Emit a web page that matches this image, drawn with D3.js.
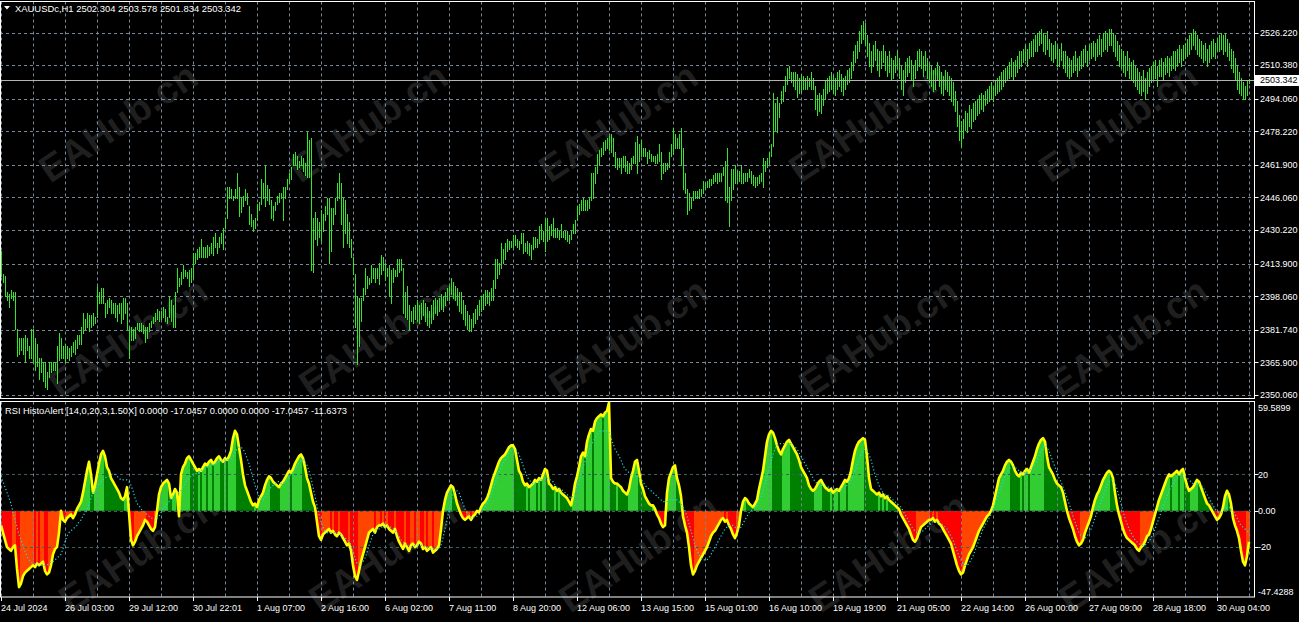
<!DOCTYPE html>
<html><head><meta charset="utf-8">
<script src="https://cdn.jsdelivr.net/npm/d3@7"></script>
<style>
html,body{margin:0;padding:0;background:#000;overflow:hidden}
svg{display:block}
text{font-family:Tahoma,"Liberation Sans",Arial,sans-serif;font-size:9px;fill:#fff}
</style></head><body>
<svg id="c" width="1299" height="622"></svg>
<script>
const symbolTitle = "XAUUSDc,H1";
const lastOHLC = ["2502.304", "2503.578", "2501.834", "2503.342"];
const lastClose = 2503.342;
const indTitle = "RSI HistoAlert [14,0,20,3,1.50X] 0.0000 -17.0457 0.0000 0.0000 -17.0457 -11.6373";
const watermark = "EAHub.cn";

const highs = [
2420,2409,2408,2400,2399,2401,2400,2400,2382,2378,
2378,2378,2379,2378,2374,2382,2382,2378,2375,2368,
2368,2366,2366,2361,2366,2366,2366,2366,2374,2380,
2378,2374,2375,2374,2373,2374,2376,2377,2379,2379,
2383,2390,2387,2390,2389,2389,2390,2388,2403,2400,
2402,2402,2395,2396,2397,2396,2395,2395,2394,2395,
2395,2397,2397,2395,2383,2383,2382,2383,2385,2385,
2385,2384,2383,2383,2385,2386,2388,2390,2392,2391,
2391,2393,2392,2388,2398,2396,2394,2400,2412,2407,
2410,2413,2411,2410,2411,2412,2419,2419,2421,2422,
2426,2422,2422,2423,2422,2424,2427,2429,2424,2427,
2429,2431,2436,2451,2451,2450,2447,2450,2458,2451,
2446,2447,2450,2448,2442,2438,2435,2436,2443,2444,
2455,2453,2462,2452,2450,2445,2442,2444,2447,2448,
2448,2451,2451,2455,2458,2461,2467,2468,2466,2464,
2466,2465,2463,2478,2474,2475,2436,2439,2436,2434,
2440,2438,2442,2446,2446,2441,2441,2446,2453,2458,
2453,2446,2445,2438,2434,2426,2417,2409,2398,2397,
2397,2402,2412,2408,2407,2413,2412,2412,2412,2414,
2418,2417,2414,2412,2413,2411,2412,2411,2416,2416,
2416,2412,2400,2403,2394,2391,2393,2394,2396,
2394,2395,2396,2395,2393,2391,2394,2396,2397,2396,
2397,2399,2398,2400,2402,2403,2407,2405,2403,2402,
2400,2400,2396,2394,2391,2389,2387,2390,2392,2394,
2396,2398,2399,2401,2401,2400,2402,2406,2416,2416,
2414,2424,2421,2424,
2426,2425,2425,2428,2428,2426,2425,2429,2429,2424,
2425,2424,2423,2427,2427,2426,2432,2433,2430,2436,
2436,2432,2433,2436,2431,2431,2430,2433,2430,2430,
2430,2428,2430,2433,2435,2442,2443,2445,2446,2445,
2445,2446,2458,2458,2461,2467,2469,2470,2473,2474,
2475,2476,2477,2475,2468,2465,2465,2465,2466,2466,
2464,2463,2465,2466,2473,2476,2472,2474,2470,2470,
2468,2469,2467,2466,2466,2467,2472,2468,2463,2463,
2463,2468,2472,2480,2477,2475,2477,2480,2470,2458,
2450,2448,2446,2449,2449,2449,2450,2450,2454,2453,
2454,2455,2455,2457,2458,2458,2458,2458,2461,2464,
2470,2451,2460,2460,2462,2459,2459,2462,2458,2458,
2458,2460,2459,2457,2456,2456,2457,2458,2465,2464,
2465,2468,2472,2497,2492,2495,2492,2498,2500,2505,
2509,2510,2507,2507,2507,2506,2504,2506,2505,2504,
2505,2504,2507,2504,2500,2496,2497,
2496,2499,2503,2504,2505,2507,2505,2504,2507,2508,
2506,2504,2505,2508,2509,2512,2517,2520,2522,2527,
2530,2532,2531,2525,2521,2517,2520,2522,2518,2517,
2517,2520,2517,2515,2517,2514,2513,2515,2517,2514,
2510,2508,2512,2514,2515,2513,2510,2513,2517,2518,
2517,2515,2517,2514,2512,2510,2508,2509,2512,2510,
2507,2505,2508,2507,2505,2504,2502,2498,2493,2486,
2483,2484,2488,2487,2491,2489,2492,2493,2494,2496,
2497,2496,2498,2499,2500,2502,2500,2503,2504,2505,
2507,2508,2509,2510,2512,2514,2512,2513,2515,2517,
2517,2518,2520,2518,2521,2522,2523,2525,2526,2527,
2528,2526,2525,2527,2523,2521,2520,2522,2520,2518,
2521,2517,2517,2515,2514,2513,2515,2517,2514,2515,
2517,2518,2520,2517,2520,2521,2522,2521,2523,2525,
2523,2526,2527,2526,2528,2528,2526,2525,2522,2520,
2518,2517,2515,2517,2514,2512,2513,2510,2509,2507,
2505,2508,2504,2507,2509,2510,2512,2513,2510,2513,
2514,2512,2514,2515,2514,2515,2517,2517,2518,2520,
2518,2520,2521,2523,2525,2526,2528,2527,2525,2523,
2522,2520,2521,2518,2520,2522,2523,2521,2523,2525,
2526,2525,2526,2523,2521,2518,2517,2514,2510,2507,
2504,2502,2500,2503,2503.578
];
const lows = [
2408,2405,2398,2396,2393,2397,2396,2382,2369,2370,
2372,2370,2366,2372,2368,2368,2366,2362,2364,2358,
2361,2357,2354,2353,2359,2361,2362,2362,2356,2367,
2368,2368,2366,2368,2367,2369,2371,2370,2373,2375,
2375,2380,2382,2383,2381,2383,2384,2385,2388,2395,
2395,2395,2388,2390,2393,2390,2390,2388,2386,2390,
2385,2387,2390,2382,2368,2377,2377,2378,2382,2381,
2381,2380,2376,2378,2381,2383,2385,2386,2387,2386,
2387,2388,2386,2385,2388,2386,2383,2383,2400,2403,
2404,2407,2408,2407,2403,2405,2407,2414,2416,2417,
2417,2417,2417,2417,2418,2419,2418,2422,2419,2422,
2424,2421,2431,2436,2446,2446,2445,2446,2446,2437,
2439,2442,2445,2443,2433,2432,2430,2431,2435,2440,
2443,2446,2442,2445,2443,2436,2435,2440,2443,2444,
2446,2435,2446,2450,2453,2455,2462,2462,2460,2461,
2462,2459,2457,2456,2456,2411,2410,2426,2423,2427,
2425,2430,2435,2438,2414,2420,2433,2438,2445,2446,
2433,2422,2429,2424,2422,2417,2409,2383,2365,2374,
2386,2396,2399,2402,2404,2405,2407,2405,2407,2404,
2409,2411,2406,2408,2398,2395,2405,2408,2408,2410,
2411,2390,2388,2387,2382,2386,2385,2387,2386,
2385,2387,2389,2386,2384,2383,2385,2387,2390,2389,
2391,2392,2391,2394,2396,2396,2399,2397,2396,2394,
2391,2390,2387,2384,2382,2381,2381,2383,2385,2387,
2389,2391,2392,2394,2395,2394,2396,2396,2402,2407,
2409,2412,2414,2416,
2420,2421,2422,2422,2423,2422,2421,2424,2419,2420,
2419,2418,2416,2421,2422,2422,2424,2426,2425,2420,
2425,2426,2428,2427,2427,2427,2426,2427,2427,2426,
2425,2424,2426,2429,2429,2435,2438,2440,2440,2440,
2440,2441,2445,2446,2453,2458,2462,2466,2467,2469,
2470,2469,2468,2466,2461,2460,2461,2458,2461,2459,
2458,2458,2460,2463,2463,2458,2464,2466,2466,2466,
2463,2465,2464,2464,2463,2463,2464,2455,2458,2459,
2460,2461,2466,2467,2470,2470,2470,2462,2450,2448,
2438,2440,2441,2445,2446,2446,2446,2447,2448,2450,
2451,2451,2452,2453,2454,2453,2454,2454,2457,2445,
2444,2432,2445,2450,2453,2453,2454,2453,2453,2454,
2454,2456,2453,2452,2451,2452,2453,2454,2451,2459,
2461,2463,2466,2471,2479,2478,2485,2492,2493,2498,
2501,2504,2502,2500,2499,2495,2497,2498,2499,2499,
2499,2500,2499,2499,2489,2486,2488,
2487,2491,2494,2497,2498,2499,2497,2496,2499,2500,
2498,2496,2499,2501,2502,2504,2508,2512,2514,2517,
2521,2523,2520,2515,2510,2507,2510,2513,2508,2505,
2509,2512,2508,2505,2507,2503,2504,2507,2509,2504,
2499,2496,2502,2505,2507,2503,2500,2504,2508,2510,
2509,2505,2508,2504,2502,2500,2498,2499,2503,2500,
2497,2496,2499,2498,2496,2493,2491,2488,2481,2474,
2471,2475,2479,2478,2481,2480,2483,2484,2486,2487,
2489,2488,2491,2492,2493,2494,2493,2496,2497,2498,
2499,2500,2502,2503,2504,2505,2503,2505,2507,2509,
2510,2512,2513,2510,2514,2515,2515,2517,2517,2520,
2521,2517,2516,2518,2515,2513,2512,2514,2510,2510,
2513,2509,2507,2505,2504,2505,2507,2508,2505,2508,
2509,2510,2512,2510,2513,2514,2515,2513,2515,2516,
2515,2517,2518,2517,2520,2520,2517,2515,2513,2510,
2509,2507,2505,2508,2504,2503,2502,2500,2499,2497,
2496,2498,2494,2497,2500,2502,2503,2504,2500,2505,
2505,2503,2506,2507,2505,2508,2509,2508,2510,2512,
2510,2513,2514,2515,2516,2518,2520,2518,2516,2515,
2514,2512,2513,2510,2512,2514,2515,2514,2517,2517,
2518,2516,2517,2515,2513,2509,2507,2503,2499,2497,
2496,2494,2494,2496,2501.834
];
const hist = [
-8,-12,-16,-20,-21,-22,-20,-19,-32,-42,
-40,-36,-34,-33,-32,-31,-30,-31,-29,-30,
-29,-28,-33,-35,-34,-30,-24,-21,-20,-12,
0,-5,-6,-4,-3,-2,-4,-2,1,3,
5,10,16,22,27,20,10,14,20,26,
31,33,30,24,22,18,16,14,12,10,
7,6,8,13,-1,-16,-19,-17,-14,-12,
-10,-8,-5,-6,-8,-10,-11,-9,0,9,
13,15,16,17,15,7,9,12,10,-3,
20,24,26,29,30,28,26,24,22,23,
22,24,26,25,27,28,26,27,29,30,
28,27,29,28,30,33,40,44,42,35,
28,20,14,11,8,5,3,4,2,6,
8,10,14,17,19,18,16,15,14,13,
15,16,18,20,22,21,23,26,28,30,
31,29,24,18,15,10,5,2,-6,-14,
-16,-13,-12,-11,-10,-12,-11,-13,-14,-12,
-13,-15,-17,-19,-18,-22,-30,-36,-38,-33,
-28,-24,-20,-16,-12,-11,-10,-12,-9,-8,
-8,-7,-9,-8,-10,-11,-12,-10,-14,-17,
-19,-21,-18,-20,-22,-19,-18,-20,-19,-17,
-18,-21,-20,-22,-21,-20,-23,-22,-21,-19,
-10,0,6,10,12,14,13,9,4,1,
-2,-4,-5,-4,-3,-5,-3,-2,0,-1,
2,4,5,7,10,14,18,21,24,27,
29,30,31,33,35,36,36,34,28,22,
20,16,14,15,13,14,15,17,16,18,
17,20,23,22,15,14,12,13,11,12,
10,9,8,7,5,3,8,15,19,24,
30,32,30,38,42,45,44,49,51,52,
53,52,54,55,59.5899,18,16,15,15,14,
13,11,10,9,12,18,22,27,28,22,
15,12,8,6,4,3,3,1,-2,-4,
-7,-9,-8,10,18,21,24,25,18,14,
8,-3,-8,-12,-20,-30,-35,-33,-30,-28,
-26,-24,-22,-20,-17,-14,-12,-11,-9,-7,
-5,-4,-6,-5,-8,-10,-13,-15,-12,-8,
0,5,7,6,4,3,2,4,6,12,
17,22,30,38,42,44,43,40,36,33,
31,34,36,38,39,37,35,33,31,28,
24,22,20,18,14,12,11,12,14,16,
17,15,13,12,11,12,10,11,12,11,
13,15,17,16,18,22,28,33,36,38,
39,40,39,30,18,12,11,10,9,10,
8,9,7,8,6,5,4,3,2,1,
-2,-4,-6,-8,-10,-13,-16,-17,-15,-12,
-9,-8,-7,-6,-5,-5,-4,-6,-5,-7,
-8,-10,-12,-14,-16,-18,-22,-26,-30,-33,
-35,-34,-30,-27,-24,-22,-20,-17,-14,-11,
-9,-7,-5,-3,-2,0,3,8,13,18,
20,22,25,27,28,27,25,22,20,19,
21,20,22,23,21,24,27,30,34,37,
39,40,38,30,24,22,20,17,15,14,
13,10,5,0,-4,-7,-10,-14,-17,-19,
-18,-16,-12,-9,-6,-3,2,6,9,11,
14,17,19,21,22,21,18,10,3,-2,
-6,-10,-13,-15,-16,-17,-18,-19,-21,-22,
-20,-19,-17,-14,-13,-10,-6,-2,2,6,
9,12,15,18,20,19,20,21,22,20,
22,23,18,14,11,12,13,15,17,16,
13,10,7,4,3,1,-1,-3,-5,-4,
-2,2,8,11,9,4,-4,-8,-11,-15,
-22,-28,-30,-25,-17.0457
];
const signal = [
19,16,13,10,7,4,-1,-5,-9,-13,
-16,-19,-22,-25,-27,-28,-29,-29,-30,-30,
-30,-30,-30,-30,-29,-28,-28,-27,-26,-25,
-24,-21,-17,-14,-12,-11,-10,-9,-8,-6,
-5,-3,-1,0,3,7,10,11,13,15,
16,17,18,19,19,20,20,20,19,18,
17,17,17,17,16,14,11,7,4,3,
1,0,-1,-2,-3,-4,-4,-5,-4,-3,
-1,1,2,4,5,7,8,9,10,10,
11,13,15,17,18,19,20,20,21,21,
22,23,23,24,24,25,25,26,26,27,
27,28,28,28,28,29,30,32,34,35,
35,34,32,29,26,22,18,14,11,8,
7,6,7,9,11,13,14,15,16,16,
15,15,16,17,19,20,21,23,25,26,
28,28,27,25,22,18,13,8,3,-2,
-6,-9,-11,-12,-12,-12,-12,-12,-12,-13,
-13,-14,-15,-16,-17,-19,-22,-26,-29,-30,
-30,-28,-26,-23,-19,-16,-13,-11,-10,-10,
-9,-9,-9,-8,-9,-9,-10,-11,-12,-14,
-16,-17,-18,-19,-19,-20,-20,-19,-19,-19,
-19,-19,-20,-20,-21,-21,-21,-21,-21,-21,
-19,-15,-10,-5,0,5,9,11,11,10,
7,4,1,-1,-3,-4,-4,-3,-3,-2,
-1,0,2,4,6,9,12,15,18,21,
24,26,28,30,32,33,34,34,33,31,
28,25,22,19,17,16,15,15,16,16,
17,17,18,18,17,17,16,14,13,12,
12,11,10,9,8,7,8,10,13,16,
20,24,27,30,33,36,38,40,42,43,
44,44,44,44,43,40,37,34,32,30,
28,25,23,22,21,20,19,19,19,18,
17,16,14,13,12,11,10,9,8,7,
6,5,5,5,6,6,6,6,6,5,
4,2,0,-3,-7,-11,-15,-19,-22,-24,
-26,-27,-27,-27,-26,-24,-22,-20,-18,-16,
-14,-12,-10,-9,-8,-8,-8,-9,-10,-10,
-9,-7,-5,-3,-1,0,1,2,3,5,
8,11,15,19,23,27,31,34,36,37,
37,37,37,37,37,37,36,35,34,32,
30,28,26,24,22,20,18,16,15,14,
14,14,14,13,13,13,12,12,12,12,
12,12,13,14,15,17,19,22,25,28,
31,33,34,33,31,28,24,20,17,14,
12,10,9,9,8,7,6,5,4,3,
2,0,-2,-4,-6,-8,-10,-11,-12,-12,
-12,-11,-10,-9,-8,-7,-6,-6,-6,-6,
-7,-8,-9,-10,-12,-14,-16,-19,-22,-25,
-27,-29,-30,-30,-29,-27,-25,-22,-19,-16,
-13,-10,-8,-6,-4,-2,1,4,7,10,
13,16,19,21,23,24,24,24,23,22,
21,21,21,21,22,23,24,26,28,31,
33,35,36,35,33,30,27,24,21,18,
16,13,10,7,4,1,-3,-6,-9,-12,
-14,-15,-15,-14,-12,-10,-7,-4,-1,2,
5,8,11,14,16,17,17,15,12,8,
4,0,-4,-7,-10,-12,-14,-16,-17,-18,
-19,-19,-19,-18,-17,-15,-13,-10,-7,-4,
-1,2,5,8,11,13,15,17,18,19,
20,20,19,18,17,16,15,15,15,15,
14,13,11,9,7,5,3,1,0,-1,
-1,0,1,2,2,1,0,-2,-4,-6,
-8,-9,-10,-11,-11.6373
];

const priceTicks = [2526.220, 2510.380, 2494.060, 2478.220, 2461.900, 2446.060, 2430.220, 2413.900, 2398.060, 2381.740, 2365.900, 2350.060];
const indTicks = [59.5899, 20, 0, -20, -47.4288];
const indTickText = ["59.5899", "20", "0.00", "-20", "-47.4288"];
const indLevels = [20, 0, -20];
const timeLabels = ["24 Jul 2024","26 Jul 03:00","29 Jul 12:00","30 Jul 22:01","1 Aug 07:00","2 Aug 16:00","6 Aug 02:00","7 Aug 11:00","8 Aug 20:00","12 Aug 06:00","13 Aug 15:00","15 Aug 01:00","16 Aug 10:00","19 Aug 19:00","21 Aug 05:00","22 Aug 14:00","26 Aug 00:00","27 Aug 09:00","28 Aug 18:00","30 Aug 04:00"];
const barsPerLabel = 32;
const barsPerGrid = 16;

// ---------- layout ----------
const W = 1299, H = 622;
const plotR = 1254.5;
const mainT = 1.5, mainB = 398.5, indT = 401.5, indB = 597;
const gridColor = "#778899";
const levelColor = "#3e5f5f";

const svg = d3.select("#c");
svg.append("rect").attr("width", W).attr("height", H).attr("fill", "#000");

const N = highs.length;
const x = d3.scaleLinear().domain([0, N - 1]).range([1.5, 1.5 + 2 * (N - 1)]);
const y = d3.scaleLinear()
  .domain([priceTicks[priceTicks.length - 1], priceTicks[0]])
  .range([395, 32.5]);
const yi = d3.scaleLinear()
  .domain([indTicks[indTicks.length - 1], indTicks[0]])
  .range([indB, indT + 1]);
const px = v => Math.round(v) + 0.5;

// ---------- watermark ----------
const wm = svg.append("g");
const wmCols = d3.range(5), wmRows = d3.range(3);
wmRows.forEach(r => wmCols.forEach(c => {
  const cx = 120 + 250 * c + 10 * r, cy = 125 + 215 * r;
  wm.append("text").text(watermark)
    .attr("transform", `translate(${cx},${cy}) rotate(-34)`)
    .attr("text-anchor", "middle").attr("dominant-baseline", "middle")
    .style("font-family", "'Liberation Sans',Arial,sans-serif")
    .style("font-size", "38px").style("font-weight", "bold")
    .style("fill", "#ffffff").style("fill-opacity", 0.13);
}));

// ---------- main grid ----------
const gMain = svg.append("g");
const gridIdx = d3.range(0, N, barsPerGrid);
gMain.selectAll("line.vg").data(gridIdx).join("line")
  .attr("x1", i => px(x(i) - 0.5)).attr("x2", i => px(x(i) - 0.5))
  .attr("y1", mainT).attr("y2", mainB)
  .attr("stroke", gridColor).attr("stroke-dasharray", "3,3");
gMain.selectAll("line.hg").data(priceTicks).join("line")
  .attr("x1", 0).attr("x2", plotR)
  .attr("y1", p => px(y(p))).attr("y2", p => px(y(p)))
  .attr("stroke", gridColor).attr("stroke-dasharray", "3,3");

// ---------- price bars ----------
gMain.selectAll("line.bar").data(highs).join("line")
  .attr("x1", (h, i) => x(i)).attr("x2", (h, i) => x(i))
  .attr("y1", h => Math.round(y(h)))
  .attr("y2", (h, i) => Math.round(y(lows[i])) + 1)
  .attr("stroke", "#33e62a").attr("stroke-width", 1);

// current price line
gMain.append("line")
  .attr("x1", 0).attr("x2", plotR)
  .attr("y1", px(y(lastClose))).attr("y2", px(y(lastClose)))
  .attr("stroke", "#b4b4b4");

// ---------- indicator ----------
const gInd = svg.append("g");
const y0 = yi(0);
gInd.selectAll("rect.h").data(hist).join("rect")
  .attr("x", (v, i) => x(i) - 1.5)
  .attr("width", 2)
  .attr("y", v => Math.min(yi(v), y0))
  .attr("height", v => Math.abs(yi(v) - y0))
  .attr("fill", (v, i) => {
    const prev = i > 0 ? hist[i - 1] : v;
    if (v >= 0) return v >= prev ? "#32cd32" : "#008000";
    return v <= prev ? "#ff0000" : "#ff4500";
  });

gInd.selectAll("line.vg").data(gridIdx).join("line")
  .attr("x1", i => px(x(i) - 0.5)).attr("x2", i => px(x(i) - 0.5))
  .attr("y1", indT).attr("y2", indB)
  .attr("stroke", gridColor).attr("stroke-dasharray", "3,3");
gInd.selectAll("line.lv").data(indLevels).join("line")
  .attr("x1", 0).attr("x2", plotR)
  .attr("y1", v => px(yi(v))).attr("y2", v => px(yi(v)))
  .attr("stroke", levelColor).attr("stroke-dasharray", "3,3");

gInd.append("path").datum(hist)
  .attr("d", d3.line().x((v, i) => x(i) - 0.5).y(v => yi(v)))
  .attr("fill", "none").attr("stroke", "#ffff00").attr("stroke-width", 2.6)
  .attr("stroke-linejoin", "round");

gInd.append("path").datum(signal)
  .attr("d", d3.line().x((v, i) => x(i) - 0.5).y(v => yi(v)))
  .attr("fill", "none").attr("stroke", "#20d8e8").attr("stroke-width", 1.2)
  .attr("stroke-dasharray", "1.2,2.2");

// ---------- frames ----------
const fr = svg.append("g").attr("fill", "none").attr("stroke", "#ffffff");
fr.append("rect").attr("x", 0.5).attr("y", mainT).attr("width", plotR - 0.5).attr("height", mainB - mainT);
fr.append("rect").attr("x", 0.5).attr("y", indT).attr("width", plotR - 0.5).attr("height", indB - indT);

// ---------- price axis ----------
const ax = svg.append("g");
ax.selectAll("line.t").data(priceTicks).join("line")
  .attr("x1", plotR).attr("x2", plotR + 4)
  .attr("y1", p => px(y(p))).attr("y2", p => px(y(p)))
  .attr("stroke", "#ffffff");
ax.selectAll("text.t").data(priceTicks).join("text")
  .attr("x", 1260).attr("y", p => y(p) + 3.3)
  .text(p => p.toFixed(3));

// last price label
const ly = y(lastClose);
ax.append("rect").attr("x", 1255).attr("y", Math.round(ly) - 5).attr("width", 44).attr("height", 11).attr("fill", "#ffffff");
ax.append("text").attr("x", 1260).attr("y", ly + 3.5).style("fill", "#000").text(lastClose.toFixed(3));

// indicator axis
const iax = svg.append("g");
iax.selectAll("line.t").data(indTicks.slice(1, -1)).join("line")
  .attr("x1", plotR).attr("x2", plotR + 4)
  .attr("y1", v => px(yi(v))).attr("y2", v => px(yi(v)))
  .attr("stroke", "#ffffff");
iax.selectAll("text").data(indTicks).join("text")
  .attr("x", 1258)
  .attr("y", (v, i) => {
    let yy = yi(v) + 3.3;
    if (i === 0) yy += 5.5;
    if (i === indTicks.length - 1) yy -= 5.5;
    return yy;
  })
  .text((v, i) => indTickText[i]);

// ---------- time axis ----------
const labIdx = timeLabels.map((t, k) => k * barsPerLabel);
const tax = svg.append("g");
tax.selectAll("line").data(labIdx).join("line")
  .attr("x1", i => px(x(i) - 0.5)).attr("x2", i => px(x(i) - 0.5))
  .attr("y1", indB).attr("y2", indB + 4)
  .attr("stroke", "#ffffff");
tax.selectAll("text").data(labIdx).join("text")
  .attr("x", i => x(i) - 0.5).attr("y", 610.5)
  .text((i, k) => timeLabels[k]);

// ---------- headers ----------
svg.append("path").attr("d", "M4,6 L10,6 L7,9.5 Z").attr("fill", "#ffffff");
svg.append("text").attr("x", 15).attr("y", 11.5)
  .attr("textLength", 226).attr("lengthAdjust", "spacingAndGlyphs")
  .text(symbolTitle + "  " + lastOHLC.join(" "));
svg.append("text").attr("x", 5).attr("y", 413.5)
  .attr("textLength", 342).attr("lengthAdjust", "spacingAndGlyphs")
  .text(indTitle);
</script>
</body></html>
